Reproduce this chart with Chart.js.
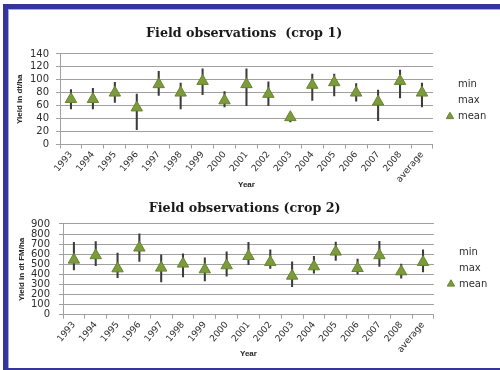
<!DOCTYPE html>
<html>
<head>
<meta charset="utf-8">
<script src="https://cdn.jsdelivr.net/npm/chart.js@4/dist/chart.umd.min.js"></script>
<style>
html,body{margin:0;padding:0;background:#fff;width:500px;height:370px;overflow:hidden;position:relative}
#frame{position:absolute;left:3px;top:4px;width:600px;height:359px;border:5px solid #35359b;box-shadow:inset 1px 1px 0 #a9a9dc}
canvas{position:absolute;left:0}
#c1{top:0}
#c2{top:190px}
</style>
</head>
<body>
<div id="frame"></div>
<canvas id="c1" width="500" height="195"></canvas>
<canvas id="c2" width="500" height="180"></canvas>
<script>
// ---- data ----
const categories = ['1993','1994','1995','1996','1997','1998','1999','2000','2001','2002','2003','2004','2005','2006','2007','2008','average'];

const crop1Min  = [55, 55, 65, 23, 76, 55, 77, 58, 60, 60, 35, 68, 75, 67, 37, 72, 58];
const crop1Max  = [85, 87, 96, 78, 113, 95, 117, 82, 117, 97, 45, 109, 109, 94, 84, 115, 95];
const crop1Mean = [70, 70, 80, 57, 93, 80, 98, 68, 93, 78, 42, 92, 96, 80, 66, 98, 80];

const crop2Min  = [445, 485, 368, 528, 325, 375, 335, 382, 495, 458, 279, 412, 538, 402, 478, 362, 425];
const crop2Max  = [717, 724, 611, 803, 594, 604, 564, 624, 717, 644, 525, 578, 720, 551, 727, 501, 644];
const crop2Mean = [544, 588, 458, 664, 465, 505, 448, 488, 580, 521, 385, 478, 624, 461, 588, 428, 521];

const seriesNames = ['min', 'max', 'mean'];
const crop1Ticks = {min: 0, max: 140, step: 20};
const crop2Ticks = {min: 0, max: 900, step: 100};

// ---- styling ----
const GREEN = '#7b9b3c';
const GREEN_DARK = '#66842e';
const WHISKER = '#3c3c3c';
const GRID = '#a0a0a0';
const TXT = '#2e2e2e';

const legendShift = {
  id: 'legendShift',
  afterLayout(chart, args, opts) {
    if (chart.legend) {
      chart.legend.left += opts.dx; chart.legend.right += opts.dx;
      chart.legend.top += opts.dy; chart.legend.bottom += opts.dy;
    }
  }
};

function build(id, o) {
  const none = 'rgba(0,0,0,0)';
  return new Chart(document.getElementById(id), {
    type: 'bar',
    data: {
      labels: categories,
      datasets: [
        {type: 'line', label: seriesNames[0], data: o.min, showLine: false, pointRadius: 0, pointHoverRadius: 0,
         backgroundColor: none, borderColor: none, pointStyle: 'rect', order: 3},
        {type: 'line', label: seriesNames[1], data: o.max, showLine: false, pointRadius: 0, pointHoverRadius: 0,
         backgroundColor: none, borderColor: none, pointStyle: 'rect', order: 3},
        {type: 'line', label: seriesNames[2], data: o.mean, showLine: false, pointStyle: 'triangle',
         pointRadius: 6.6, pointHoverRadius: 6.6, backgroundColor: GREEN, borderColor: GREEN_DARK,
         pointBackgroundColor: GREEN, pointBorderColor: GREEN_DARK, pointBorderWidth: 1, order: 0, clip: false},
        {type: 'bar', label: 'range', data: o.min.map((v, i) => [v, o.max[i]]),
         backgroundColor: WHISKER, borderWidth: 0, barThickness: 1.4, order: 2}
      ]
    },
    options: {
      responsive: false,
      devicePixelRatio: 1,
      animation: false,
      events: [],
      layout: {padding: {left: 0, right: o.padR, top: 0, bottom: 0}},
      plugins: {
        tooltip: {enabled: false},
        title: {
          display: true, text: o.title, color: '#1a1a1a',
          font: {family: 'DejaVu Serif', weight: 'bold', size: 12.7, lineHeight: 1.2},
          padding: {top: o.titleTop, bottom: o.titleBottom}
        },
        legend: {
          position: 'right', align: 'center',
          labels: {
            usePointStyle: true, boxWidth: 6, boxHeight: 6, padding: 6, color: TXT,
            font: {family: 'DejaVu Sans', size: 10},
            filter: (item) => item.text !== 'range',
            sort: (a, b) => a.datasetIndex - b.datasetIndex
          }
        },
        legendShift: {dx: 8, dy: o.legDy}
      },
      scales: {
        x: {
          offset: true,
          grid: {offset: true, drawOnChartArea: false, drawTicks: true, tickLength: 4, color: GRID},
          border: {color: GRID},
          ticks: {autoSkip: false, minRotation: 50, maxRotation: 50, color: TXT, padding: 1,
                  font: {family: 'DejaVu Sans', size: 9}},
          title: {display: true, text: 'Year', color: '#222',
                  font: {family: 'Liberation Sans', weight: 'bold', size: 8, lineHeight: 1.2},
                  padding: {top: 0, bottom: o.yearPad}},
          afterFit(s) { s.height = o.xh; }
        },
        y: {
          min: o.ticks.min, max: o.ticks.max,
          grid: {color: GRID, lineWidth: 1, tickLength: 4, drawTicks: true},
          border: {color: GRID},
          ticks: {stepSize: o.ticks.step, autoSkip: false, color: TXT, padding: o.tickPad,
                  font: {family: 'DejaVu Sans', size: 10}},
          title: {display: true, text: o.ytitle, color: '#222',
                  font: {family: 'Liberation Sans', weight: 'bold', size: 8, lineHeight: 1.2},
                  padding: {top: o.ytPad, bottom: 0}},
          afterFit(s) { s.width = o.yw; }
        }
      }
    },
    plugins: [legendShift]
  });
}

build('c1', {
  min: crop1Min, max: crop1Max, mean: crop1Mean, ticks: crop1Ticks,
  title: 'Field observations  (crop 1)', ytitle: 'Yield in dt/ha',
  titleTop: 26.2, titleBottom: 12.5, xh: 50.5, yearPad: 5.2, yw: 60, tickPad: 7, ytPad: 15.2, padR: 11.7, legDy: 3
});
build('c2', {
  min: crop2Min, max: crop2Max, mean: crop2Mean, ticks: crop2Ticks,
  title: 'Field observations (crop 2)', ytitle: 'Yield in dt FM/ha',
  titleTop: 11.2, titleBottom: 7.5, xh: 55.3, yearPad: 11.5, yw: 63, tickPad: 9, ytPad: 16.7, padR: 10.7, legDy: -12
});
</script>
</body>
</html>
